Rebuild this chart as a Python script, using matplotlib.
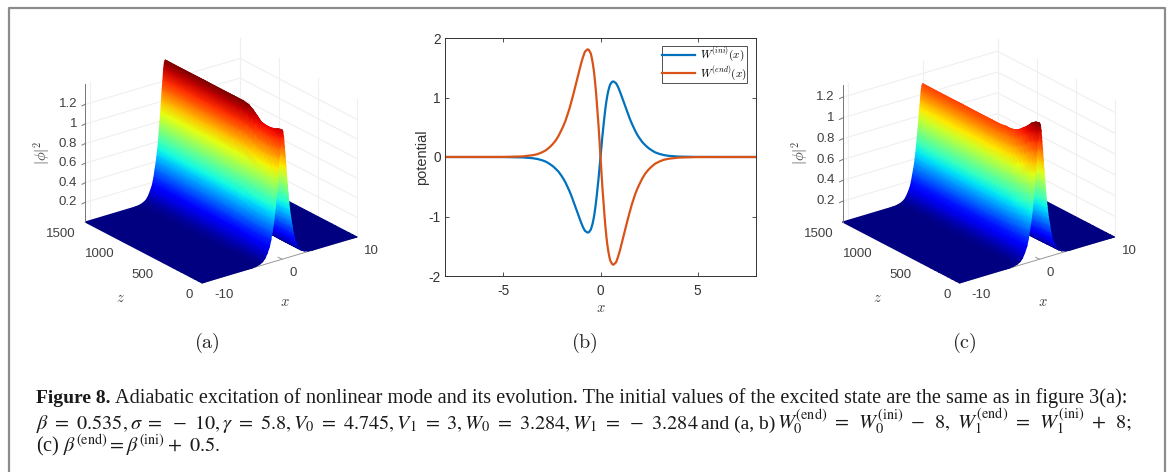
import numpy as np
import matplotlib
matplotlib.use('Agg')
import matplotlib.pyplot as plt

plt.rcParams['font.family'] = ['Liberation Sans', 'DejaVu Sans']
plt.rcParams['mathtext.fontset'] = 'cm'
plt.rcParams['axes.unicode_minus'] = False

# |phi|^2 across x, normalised to the ridge top (mirrored around x = 0)
half_x = [0, .1, .2, .3, .4, .5, .6, .7, .8, .9, 1.0, 1.1, 1.2, 1.35, 1.5, 1.7, 2.0, 2.3, 2.6, 3.0, 3.5, 4.0, 10.0]
half_shape = [1.0, .985, .94, .86, .79, .71, .63, .56, .49, .42, .37, .32, .28, .23, .175, .125, .08, .045, .025, .012, .004, .001, 0]

# ridge height along z for panels (a) and (c)
z_stations = [1500, 1000, 600, 500, 430, 375, 320, 270, 210, 155, 100, 50, 0]
ridge_a = [1.41, 1.41, 1.41, 1.41, 1.40, 1.37, 1.33, 1.29, 1.28, 1.28, 1.29, 1.31, 1.32]
ridge_c = [1.10, 1.10, 1.10, 1.10, 1.11, 1.11, 1.12, 1.14, 1.18, 1.22, 1.27, 1.30, 1.31]

# potentials for panel (b), x >= 0 part, the other side has the opposite sign
pot_x = [0, .1, .2, .25, .3, .35, .4, .45, .5, .6, .67, .8, .9, 1.0, 1.1, 1.2, 1.3, 1.4, 1.5, 1.6, 1.7, 1.8, 1.9, 2.0, 2.15, 2.3, 2.45, 2.6, 2.8, 3.0, 3.25, 3.5, 4.0, 5.0, 8.0]
w_ini = [0, .36, .67, .81, .93, 1.03, 1.11, 1.17, 1.22, 1.265, 1.27, 1.24, 1.18, 1.10, 1.01, .92, .83, .74, .65, .57, .50, .43, .37, .32, .25, .20, .155, .12, .08, .055, .033, .02, .007, .001, 0]
w_end = [0, -.52, -.96, -1.16, -1.33, -1.47, -1.58, -1.67, -1.74, -1.80, -1.81, -1.77, -1.68, -1.57, -1.44, -1.31, -1.18, -1.05, -.93, -.81, -.71, -.61, -.53, -.46, -.36, -.28, -.22, -.17, -.115, -.08, -.047, -.03, -.01, -.001, 0]

height_ticks = [.2, .4, .6, .8, 1, 1.2]
height_labels = ['0.2', '0.4', '0.6', '0.8', '1', '1.2']
z_ticks = [0, 500, 1000, 1500]
x_ticks = [-10, 0, 10]
pot_xticks = [-5, 0, 5]
pot_yticks = [-2, -1, 0, 1, 2]

TEXT = '#404040'
XMIN, XMAX = -10.7, 10


fig = plt.figure(figsize=(11.71, 4.72), dpi=100)

# whole figure in pixels, used for the frame, captions and the two 3d panels
page = fig.add_axes([0, 0, 1, 1])
page.set_xlim(0, 1171)
page.set_ylim(472, 0)
page.axis('off')
page.plot([9, 9, 1165, 1165], [472, 8, 8, 472], color='#8c8c8c', lw=1.6)


def draw_surface(ox, unit, zmax, ridge, name):
    # orthographic view, pixel position of the corner x=XMIN, z=1500 is (ox, 222)
    def project(x, z, h):
        x = np.asarray(x, float)
        z = np.asarray(z, float)
        h = np.asarray(h, float)
        fx = (x - XMIN) / (XMAX - XMIN)
        fz = (1500 - z) / 1500
        return ox + 155 * fx + 117 * fz, 222 - 46 * fx + 61 * fz - unit * h

    # back walls and grid
    grid = dict(color='#efefef', lw=.8, zorder=1)
    for z in z_ticks:
        sx, sy = project([XMAX, XMAX], [z, z], [0, zmax])
        page.plot(sx, sy, **grid)
    for x in x_ticks + [XMIN]:
        sx, sy = project([x, x], [1500, 1500], [0, zmax])
        page.plot(sx, sy, **grid)
    for h in height_ticks:
        sx, sy = project([XMIN, XMAX, XMAX], [1500, 1500, 0], [h, h, h])
        page.plot(sx, sy, **grid)

    # surface, far side first so the near slope paints over it
    xs = np.array([-v for v in half_x[::-1]] + half_x[1:])
    prof = np.array(half_shape[::-1] + half_shape[1:])
    xs[0] = XMIN
    xs = xs[::-1]
    prof = prof[::-1]
    Z, X = np.meshgrid(z_stations, xs)
    H = np.outer(prof, ridge)
    sx, sy = project(X, Z, H)
    page.pcolormesh(sx, sy, H, shading='gouraud', cmap='jet', vmin=0, vmax=max(ridge), zorder=2)

    # axis lines and ticks
    axc = '#777777'
    sx, sy = project([XMIN, XMIN], [1500, 1500], [0, zmax])
    page.plot(sx, sy, color=axc, lw=.7, zorder=3)
    sx, sy = project([XMIN, XMAX], [0, 0], [0, 0])
    page.plot(sx, sy, color='#999999', lw=.7, zorder=1.5)
    for h in height_ticks:
        sx, sy = project([XMIN], [1500], [h])
        page.plot([sx[0], sx[0] - 3], [sy[0], sy[0] + 1.5], color=axc, lw=.7, zorder=3)
    for x in x_ticks:
        sx, sy = project([x], [0], [0])
        page.plot([sx[0], sx[0] - 4], [sy[0], sy[0] - 2], color='#999999', lw=.7, zorder=1.5)

    for h, lab in zip(height_ticks, height_labels):
        sx, sy = project([XMIN], [1500], [h])
        page.text(ox - 8, sy[0], lab, ha='right', va='center', fontsize=9.5, color=TEXT)
    # tick labels sit a fixed distance off the base edges
    for z in z_ticks:
        sx, sy = project([XMIN], [z], [0])
        page.text(sx[0] - 9, sy[0] + 12, str(z), ha='right', va='center', fontsize=9.5, color=TEXT)
    for x in x_ticks:
        sx, sy = project([x], [0], [0])
        page.text(sx[0] + 7, sy[0] + 13.5, str(x), ha='left', va='center', fontsize=9.5, color=TEXT)

    page.text(ox + 35, 298, r'$z$', ha='center', va='center', fontsize=10.5, color=TEXT)
    page.text(ox + 200, 302, r'$x$', ha='center', va='center', fontsize=10.5, color=TEXT)
    page.text(ox - 43, 153, r'$|\phi|^2$', ha='center', va='center', rotation=90, fontsize=10.5, color=TEXT)
    page.text(ox + 122, 343, name, ha='center', va='center', fontsize=14.5, color='#222222')


draw_surface(85, 98, 1.41, ridge_a, r'$\mathrm{(a)}$')
draw_surface(842.5, 104, 1.32, ridge_c, r'$\mathrm{(c)}$')
page.set_xlim(0, 1171)
page.set_ylim(472, 0)

# (b) the two potentials
ax = fig.add_axes([445 / 1171, 1 - 276 / 472, 311 / 1171, 238 / 472])
x_full = [-v for v in pot_x[::-1]] + pot_x[1:]
ini_full = [-v for v in w_ini[::-1]] + w_ini[1:]
end_full = [-v for v in w_end[::-1]] + w_end[1:]
ax.plot(x_full, ini_full, color='#0072BD', lw=1.6, label=r'$W^{(ini)}(x)$')
ax.plot(x_full, end_full, color='#D95319', lw=1.6, label=r'$W^{(end)}(x)$')
ax.set_xlim(-8, 8)
ax.set_ylim(-2, 2)
ax.set_xticks(pot_xticks)
ax.set_yticks(pot_yticks)
ax.tick_params(direction='in', length=3, width=.6, top=True, right=True, labelsize=9.8, colors='#333333', pad=3)
ax.tick_params(axis='x', pad=6)
for s in ax.spines.values():
    s.set_linewidth(.7)
    s.set_color('#333333')
ax.set_ylabel('potential', fontsize=10.5, color='#333333', labelpad=0)
ax.set_xlabel(r'$x$', fontsize=10.5, color=TEXT, labelpad=2)
leg = ax.legend(loc='upper right', bbox_to_anchor=(.972, .966), fontsize=8, fancybox=False, framealpha=1,
                edgecolor='#333333', borderpad=0, labelspacing=0, handlelength=3.0, handletextpad=.5, borderaxespad=0)
leg.get_frame().set_linewidth(.6)
page.text(584.5, 343, r'$\mathrm{(b)}$', ha='center', va='center', fontsize=14.5, color='#222222')

# caption
serif = dict(fontsize=14.6, family='Liberation Serif', color='#1a1a1a', va='baseline', math_fontfamily='stix')
page.text(36, 403, 'Figure 8.', fontweight='bold', fontsize=14.0, family='Liberation Serif', color='#1a1a1a', va='baseline')
page.text(115, 403, 'Adiabatic excitation of nonlinear mode and its evolution. The initial values of the excited state are the same as in figure 3(a):', **serif)
page.text(36, 429, r'$\beta\ =\ 0.535,\sigma\ =\ -\ 10,\gamma\ =\ 5.8,V_0\ =\ 4.745,V_1\ =\ 3,W_0\ =\ 3.284,W_1\ =\ -\ 3.284$', **serif)
page.text(701, 429, 'and (a, b)', fontsize=14, family='Liberation Serif', color='#1a1a1a', va='baseline')
page.text(777, 429, r'$W_0^{\rm (end)}\ =\ \,W_0^{\rm (ini)}\ -\ \,8,\ W_1^{\rm (end)}\ =\ \,W_1^{\rm (ini)}\ +\ \,8;$', **serif)
page.text(36, 452, r'(c) $\beta^{\rm (end)}{=}\beta^{\rm (ini)} +\ 0.5.$', **serif)

fig.savefig('out.png', dpi=100)
